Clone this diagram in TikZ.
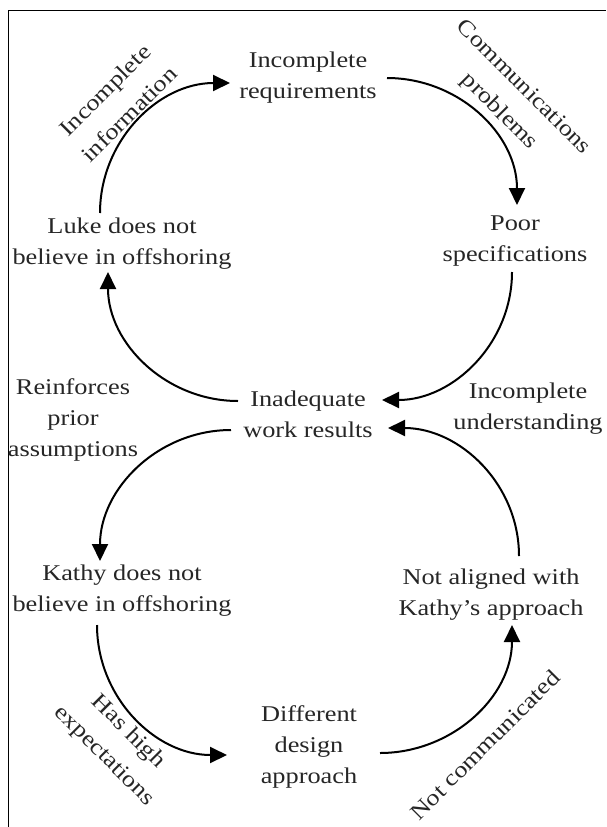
\documentclass[tikz,border=0pt]{standalone}
\usepackage{fontspec}
\setmainfont[FakeStretch=1.17]{Liberation Serif}
\usetikzlibrary{arrows.meta}
\begin{document}
\begin{tikzpicture}[x=1pt,y=1pt,
  lbl/.style={align=center,inner sep=0pt,text=black!85,font=\fontsize{22.5}{31}\selectfont},
  rlbl/.style={lbl,font=\fontsize{22.5}{34}\selectfont},
  conn/.style={line width=2pt,-{Triangle[length=17pt,width=16pt]}}]
\useasboundingbox (0,0) rectangle (606,-827);
\draw[line width=1pt] (8,-827) -- (8,-10) -- (606,-10);
% main nodes
\node[lbl] (req)   at (308,-77.5) {Incomplete\\requirements};
\node[lbl] (spec)  at (515,-241)  {Poor\\specifications};
\node[lbl] (luke)  at (122,-244)  {Luke does not\\believe in offshoring};
\node[lbl] (inad)  at (308,-414)  {Inadequate\\work results};
\node[lbl] (kathy) at (122,-591)  {Kathy does not\\believe in offshoring};
\node[lbl] (alig)  at (491,-595)  {Not aligned with\\Kathy’s approach};
\node[lbl] (diff)  at (309,-747)  {Different\\design\\approach};
% edge labels
\node[lbl] (undr)  at (528,-409)  {Incomplete\\understanding};
\node[lbl] (reinf) at (73,-420)   {Reinforces\\prior\\assumptions};
\node[rlbl,rotate=45]  (info) at (117,-102) {Incomplete\\information};
\node[rlbl,rotate=-45] (comm) at (511,-100) {Communications\\problems};
\node[rlbl,rotate=-45] (hash) at (116,-744) {Has high\\expectations};
\node[rlbl,rotate=45]  (notc) at (485,-745) {Not communicated};
% connector end points
\coordinate (a1s) at (100,-213); \coordinate (a1e) at (230,-83);
\coordinate (a2s) at (387,-78);  \coordinate (a2e) at (517,-205);
\coordinate (a3s) at (512,-272); \coordinate (a3e) at (382,-400);
\coordinate (a4s) at (238,-401); \coordinate (a4e) at (108,-272);
\coordinate (a5s) at (231,-430); \coordinate (a5e) at (100,-561);
\coordinate (a6s) at (97,-625);  \coordinate (a6e) at (227,-755);
\coordinate (a7s) at (380,-753); \coordinate (a7e) at (512,-625);
\coordinate (a8s) at (519,-556); \coordinate (a8e) at (388,-428);
\draw[conn] (a1s) to[out=90,in=180] (a1e);
\draw[conn] (a2s) to[out=0,in=90] (a2e);
\draw[conn] (a3s) to[out=-90,in=0] (a3e);
\draw[conn] (a4s) to[out=180,in=-90] (a4e);
\draw[conn] (a5s) to[out=180,in=90] (a5e);
\draw[conn] (a6s) to[out=-90,in=180] (a6e);
\draw[conn] (a7s) to[out=0,in=-90] (a7e);
\draw[conn] (a8s) to[out=90,in=0] (a8e);
\end{tikzpicture}
\end{document}
